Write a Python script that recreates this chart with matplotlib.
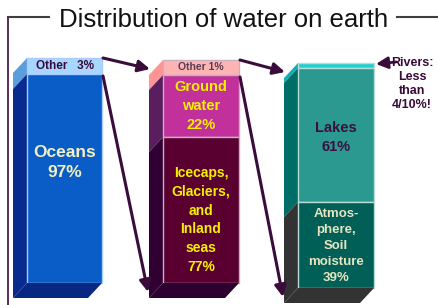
import matplotlib.pyplot as plt

# water shares at each stage (top band first, then body segments top to bottom)
stage1_labels = ['Other   3%', 'Oceans\n97%']
stage1_values = [3, 97]
stage2_labels = ['Other 1%', 'Ground\nwater\n22%', 'Icecaps,\nGlaciers,\nand\nInland\nseas\n77%']
stage2_values = [1, 22, 77]
stage3_labels = ['', 'Lakes\n61%', 'Atmos-\nphere,\nSoil\nmoisture\n39%']
stage3_values = [0.4, 61, 39]
rivers_note = 'Rivers:\nLess\nthan\n4/10%!'

stages = [(stage1_labels, stage1_values), (stage2_labels, stage2_values), (stage3_labels, stage3_values)]

# layout in pixels
left = [27, 163, 298]
width = [75, 76, 76]
base = [283, 283, 288]
body_h = [209, 208, 220]
band_h = [16, 15, 5]
min_seg = 62          # smallest drawn segment so its label fits
dx, dy = -14, 15

front_cols = [['#a9d6ff', '#0a5dc6'], ['#ffb4b4', '#c2319b', '#5a0031'], ['#22cfcf', '#2b9990', '#005f57']]
side_cols = [['#5a9ee0', '#0a2b8e'], ['#ff9494', '#5a1e5e', '#300032'], ['#12b0b0', '#006e66', '#333333']]
floor_cols = ['#072783', '#2c002f', '#333333']
edge_cols = ['#a8ccff', '#c8b0c0', '#b8dcd8']
text_cols = [['#3a0a3a', '#f2f0c4'], ['#5a3a50', '#f4f000', '#f4f000'], ['#3a0a3a', '#3a1040', '#e8e4c0']]
text_size = [[8.5, 12.5], [7.5, 10.5, 10], [8, 10.5, 9.5]]
text_shift = [[0, -16], [0, 0, 10], [0, 2, 1]]

plt.rcParams['font.family'] = ['Liberation Sans', 'DejaVu Sans']
fig = plt.figure(figsize=(4.38, 3.05), dpi=100)
ax = fig.add_axes([0, 0, 1, 1])
ax.set_xlim(0, 438)
ax.set_ylim(305, 0)
ax.axis('off')

for i, (labels, values) in enumerate(stages):
    body = values[1:]
    raw = [v / sum(body) * body_h[i] for v in body]
    small = [max(r, min_seg) for r in raw]
    extra = sum(small) - body_h[i]
    big = sum(r for r, s in zip(raw, small) if s == r)
    heights = [band_h[i]] + [s if s != r else r - extra * r / big for r, s in zip(raw, small)]
    # stack from the base upward
    tops = []
    y = base[i]
    for h in reversed(heights):
        y -= h
        tops.append(y)
    tops = list(reversed(tops))
    x0, x1 = left[i], left[i] + width[i]
    for j, (h, top) in enumerate(zip(heights, tops)):
        yb = top + h
        ax.fill([x0, x0 + dx, x0 + dx, x0], [top, top + dy, yb + dy, yb],
                color=side_cols[i][j], lw=0)
        ax.bar(x0, h, width=width[i], bottom=top, align='edge', color=front_cols[i][j],
               edgecolor=edge_cols[i], linewidth=1)
        if labels[j]:
            ax.text(x0 + width[i] / 2, top + h / 2 + text_shift[i][j], labels[j], ha='center',
                    va='center', color=text_cols[i][j], fontsize=text_size[i][j],
                    fontweight='bold', linespacing=1.45 if j else 1.0)
    ax.fill([x0, x0 + dx, x1 + dx, x1], [base[i], base[i] + dy, base[i] + dy, base[i]],
            color=floor_cols[i], lw=0)

# arrows between stages
arrow = dict(arrowstyle='-|>,head_length=0.7,head_width=0.35', lw=2.2, color='#3a0c3c',
             shrinkA=0, shrinkB=0)
bar_tops = [base[k] - body_h[k] - band_h[k] for k in range(3)]
for k in range(2):
    xr = left[k] + width[k] + 1
    xn = left[k + 1] + dx + 1
    ax.annotate('', xy=(xn, bar_tops[k + 1] + 9), xytext=(xr, bar_tops[k]), arrowprops=arrow)
    ax.annotate('', xy=(xn - 2, base[k + 1] + 9), xytext=(xr, bar_tops[k] + band_h[k] + 2),
                arrowprops=arrow)
ax.annotate('', xy=(left[2] + width[2] + 2, bar_tops[2] + 1), xytext=(396, bar_tops[2] - 1),
            arrowprops=dict(arrow, lw=2))
ax.text(412, 84, rivers_note, ha='center', va='center', fontsize=9, fontweight='bold',
        color='#3a0a3a', linespacing=1.25)

# frame with title
ax.plot([8, 8], [17, 305], color='#3a0a3a', lw=1.2)
ax.plot([8, 49], [17, 17], color='#404040', lw=1.5)
ax.plot([397, 438], [17, 17], color='#404040', lw=1.5)
ax.text(224, 20, 'Distribution of water on earth', ha='center', va='center', fontsize=18.5,
        color='#111111')

fig.savefig('out.png', dpi=100)
